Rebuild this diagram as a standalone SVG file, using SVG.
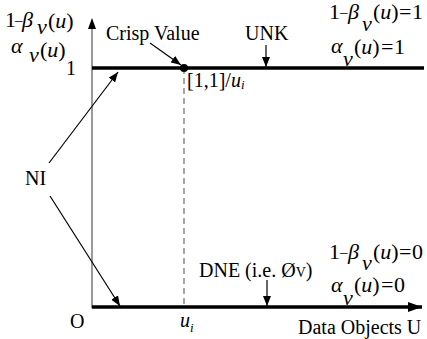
<svg xmlns="http://www.w3.org/2000/svg" width="427" height="339" viewBox="0 0 427 339" font-family="'Liberation Serif', 'DejaVu Serif', serif" font-size="20">
<style>
text{font-family:'Liberation Serif','Times New Roman','DejaVu Serif',serif;font-size:20px;fill:#000}
.m{font-size:22px}
.d{font-size:15px}
.it{font-style:italic}
.thin{stroke:#000;stroke-width:1.2;fill:none}
</style>
<defs>
<marker id="ah" viewBox="0 0 10 8" refX="10" refY="4" markerWidth="10" markerHeight="8" markerUnits="userSpaceOnUse" orient="auto">
<path d="M0,0 L10,4 L0,8 Z" fill="#000"/>
</marker>
<marker id="axh" viewBox="0 0 14 10" refX="14" refY="5" markerWidth="14" markerHeight="10" markerUnits="userSpaceOnUse" orient="auto">
<path d="M0,0 L14,5 L0,10 Z" fill="#000"/>
</marker>
</defs>
<g id="axes">
<line x1="92" y1="308" x2="92" y2="28" stroke="#808080" stroke-width="1.6"/>
<path d="M92,18 L88,29 L96,29 Z" fill="#000"/>
<line x1="184" y1="68" x2="184" y2="307" stroke="#808080" stroke-width="1.4" stroke-dasharray="6,4"/>
<line x1="92" y1="68" x2="424" y2="68" stroke="#000" stroke-width="3.5"/>
<line x1="92" y1="307" x2="422" y2="307" stroke="#000" stroke-width="3.5" marker-end="url(#axh)"/>
<circle cx="184" cy="68" r="4" fill="#000"/>
</g>
<g id="connectors">
<line class="thin" x1="150" y1="43" x2="181" y2="65" marker-end="url(#ah)"/>
<line class="thin" x1="266" y1="45" x2="266" y2="67" marker-end="url(#ah)"/>
<line class="thin" x1="267" y1="280" x2="267" y2="306" marker-end="url(#ah)"/>
<line class="thin" x1="49" y1="163" x2="118" y2="72" marker-end="url(#ah)"/>
<line class="thin" x1="50" y1="196" x2="120" y2="306" marker-end="url(#ah)"/>
</g>
<g id="ylabel">
<text class="m" x="5" y="27">1</text>
<text class="d" x="15" y="25">–</text>
<text class="m it" x="22" y="27">β</text>
<text class="m it" x="37" y="34">v</text>
<text class="m" x="48" y="28">(<tspan class="it">u</tspan>)</text>
<text class="m it" x="11" y="53">α</text>
<text class="m it" x="29" y="62">v</text>
<text class="m" x="40" y="57">(<tspan class="it">u</tspan>)</text>
<text x="66" y="75">1</text>
</g>
<g id="crisp"><text x="106" y="40">Crisp Value</text></g>
<g id="unk"><text x="245" y="40">UNK</text></g>
<g id="interval"><text x="187" y="87">[1,1]/<tspan class="it">u</tspan><tspan class="it" font-size="13" dy="2">i</tspan></text></g>
<g id="top-right">
<text class="m" x="329" y="19">1</text>
<text class="d" x="340" y="17">–</text>
<text class="m it" x="348" y="19">β</text>
<text class="m it" x="362" y="31">v</text>
<text class="m" x="373" y="19">(<tspan class="it">u</tspan>)</text>
<text class="m" x="399" y="19">=</text>
<text class="m" x="412" y="19">1</text>
<text class="m it" x="331" y="53">α</text>
<text class="m it" x="343" y="66">v</text>
<text class="m" x="354" y="54">(<tspan class="it">u</tspan>)</text>
<text class="m" x="381" y="54">=</text>
<text class="m" x="394" y="54">1</text>
</g>
<g id="ni"><text x="25" y="185">NI</text></g>
<g id="dne"><text x="199" y="277">DNE (i.e. Ø<tspan font-size="14">V</tspan>)</text></g>
<g id="bottom-right">
<text class="m" x="329" y="259">1</text>
<text class="d" x="340" y="257">–</text>
<text class="m it" x="348" y="259">β</text>
<text class="m it" x="362" y="270">v</text>
<text class="m" x="373" y="259">(<tspan class="it">u</tspan>)</text>
<text class="m" x="399" y="259">=</text>
<text class="m" x="412" y="259">0</text>
<text class="m it" x="331" y="292">α</text>
<text class="m it" x="343" y="305">v</text>
<text class="m" x="354" y="292">(<tspan class="it">u</tspan>)</text>
<text class="m" x="381" y="292">=</text>
<text class="m" x="394" y="292">0</text>
</g>
<g id="origin"><text x="70" y="328">O</text></g>
<g id="ui"><text x="180" y="327" class="it">u<tspan font-size="13" dy="5">i</tspan></text></g>
<g id="xlabel"><text x="298" y="334">Data Objects U</text></g>
</svg>
